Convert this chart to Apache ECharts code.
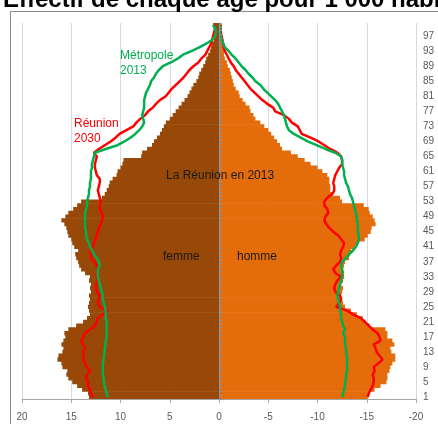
<!DOCTYPE html>
<html>
<head>
<meta charset="utf-8">
<script src="https://cdn.jsdelivr.net/npm/echarts@6/dist/echarts.min.js"></script>
<style>
  html, body { margin: 0; padding: 0; background: #fff; }
  #chart { width: 438px; height: 424px; }
</style>
</head>
<body>
<div id="chart"></div>
<script>
// ages 1..100 (bottom to top)
var ages = [];
for (var a = 1; a <= 100; a++) ages.push(String(a));

var xTicks = [-20, -15, -10, -5, 0, 5, 10, 15, 20];

// La Réunion 2013, per 1 000 inhabitants
var femme2013 = [
  13.2, 13.3, 13.9, 14.4, 14.9, 15.3, 15.5, 15.4, 15.9, 16.0,
  16.4, 16.3, 15.9, 15.8, 16.0, 15.8, 15.6, 15.7, 15.3, 14.5,
  13.8, 13.4, 13.1, 13.2, 13.3, 13.2, 13.1, 13.2, 13.0, 13.1,
  13.0, 13.2, 13.1, 13.6, 14.0, 14.2, 14.3, 14.5, 14.6, 14.3,
  14.7, 14.9, 15.0, 15.3, 15.4, 15.5, 15.7, 16.0, 15.6, 15.3,
  14.8, 14.4, 14.0, 11.9, 11.6, 11.4, 11.2, 11.1, 10.8, 10.4,
  10.3, 10.0, 9.8, 9.7, 7.9, 7.8, 7.3, 6.8, 6.6, 6.3,
  6.0, 5.8, 5.6, 5.4, 5.0, 4.7, 4.4, 4.1, 3.8, 3.5,
  3.2, 3.0, 2.8, 2.6, 2.3, 2.1, 2.0, 1.8, 1.6, 1.4,
  1.3, 1.1, 0.9, 0.8, 0.7, 0.5, 0.4, 0.3, 0.3, 0.6
];
var homme2013 = [
  15.1, 15.1, 15.8, 16.4, 17.0, 17.1, 17.1, 17.3, 17.4, 17.6,
  17.9, 17.9, 17.5, 17.4, 17.8, 17.6, 17.1, 17.1, 16.9, 15.3,
  14.9, 14.6, 14.0, 13.4, 12.8, 12.6, 12.5, 12.4, 12.5, 12.6,
  12.4, 12.6, 12.7, 12.7, 12.6, 12.7, 12.8, 13.2, 13.3, 13.4,
  13.8, 14.0, 14.8, 15.1, 15.4, 15.5, 15.9, 15.8, 15.6, 15.3,
  15.2, 14.7, 12.5, 12.3, 11.5, 11.3, 11.3, 11.2, 11.2, 11.0,
  10.5, 10.0, 9.3, 8.7, 8.0, 7.3, 6.4, 6.2, 5.9, 5.6,
  5.3, 5.0, 4.6, 4.2, 3.7, 3.5, 3.2, 3.1, 2.7, 2.4,
  2.1, 2.0, 1.7, 1.5, 1.4, 1.3, 1.2, 1.1, 0.9, 0.8,
  0.6, 0.5, 0.5, 0.4, 0.3, 0.3, 0.2, 0.2, 0.2, 0.3
];

// Réunion 2030 projection
var femme2030 = [
  12.8, 13.0, 13.1, 13.3, 13.3, 13.5, 13.4, 13.1, 13.4, 13.6,
  13.8, 13.7, 13.8, 13.6, 13.8, 14.0, 13.8, 13.6, 13.1, 12.6,
  12.4, 12.3, 11.8, 11.3, 12.1, 12.3, 12.2, 12.1, 12.4, 12.5,
  12.5, 12.3, 12.4, 12.4, 12.3, 12.4, 12.7, 13.0, 13.0, 13.1,
  12.8, 12.7, 12.5, 12.4, 12.3, 12.2, 12.0, 11.9, 11.8, 11.9,
  12.1, 12.1, 12.0, 12.1, 12.2, 12.3, 12.2, 12.1, 12.1, 12.4,
  12.5, 12.6, 12.6, 12.5, 12.4, 12.7, 12.2, 11.6, 11.0, 10.5,
  10.1, 9.4, 8.7, 8.4, 8.0, 7.5, 7.2, 6.7, 6.4, 6.0,
  5.4, 5.1, 4.8, 4.4, 4.0, 3.6, 3.3, 3.0, 2.6, 2.1,
  1.8, 1.4, 1.2, 1.0, 0.8, 0.7, 0.6, 0.5, 0.4, 0.5
];
var homme2030 = [
  15.1, 15.2, 15.4, 15.6, 15.7, 15.7, 15.6, 15.8, 15.7, 16.2,
  16.6, 16.3, 16.0, 15.9, 15.7, 16.4, 16.3, 16.1, 15.6, 15.2,
  14.8, 14.4, 13.6, 13.0, 11.9, 12.2, 12.4, 12.3, 11.8, 11.7,
  11.8, 12.0, 12.4, 11.8, 11.6, 11.9, 12.3, 12.4, 12.3, 12.4,
  12.6, 12.7, 12.4, 12.1, 11.6, 11.2, 10.9, 10.7, 10.8, 11.1,
  11.0, 10.7, 10.7, 11.0, 11.5, 11.7, 11.7, 11.6, 11.7, 11.8,
  12.0, 12.2, 12.5, 12.5, 12.4, 12.0, 11.3, 10.7, 10.1, 9.3,
  8.4, 8.2, 8.0, 7.4, 7.1, 6.6, 5.7, 5.5, 4.9, 4.4,
  4.0, 3.6, 3.2, 2.9, 2.6, 2.3, 2.0, 1.7, 1.5, 1.2,
  1.0, 0.8, 0.6, 0.5, 0.4, 0.35, 0.25, 0.2, 0.15, 0.15
];

// Métropole 2013
var femmeMetro = [
  11.3, 11.4, 11.5, 11.6, 11.7, 11.7, 11.8, 11.8, 11.8, 11.8,
  11.7, 11.7, 11.6, 11.6, 11.5, 11.5, 11.4, 11.4, 11.4, 11.4,
  11.4, 11.5, 11.5, 11.5, 11.6, 11.7, 11.8, 11.8, 11.9, 12.0,
  12.1, 12.2, 12.3, 12.3, 12.3, 12.1, 12.2, 12.4, 12.7, 12.9,
  13.1, 13.2, 13.4, 13.5, 13.5, 13.6, 13.6, 13.6, 13.6, 13.6,
  13.5, 13.4, 13.4, 13.3, 13.2, 13.2, 13.1, 13.1, 13.0, 13.0,
  13.0, 12.9, 12.9, 12.8, 12.7, 12.6, 11.5, 10.3, 9.6, 9.0,
  8.5, 8.1, 7.8, 7.6, 7.7, 7.8, 7.7, 7.6, 7.6, 7.6,
  7.5, 7.4, 7.2, 7.0, 6.9, 6.6, 6.4, 6.1, 5.7, 4.9,
  4.2, 3.7, 2.8, 2.0, 1.3, 0.7, 0.4, 0.3, 0.4, 0.6
];
var hommeMetro = [
  12.5, 12.6, 12.7, 12.8, 12.8, 12.9, 12.9, 13.0, 13.0, 13.0,
  13.0, 13.0, 12.9, 12.9, 12.8, 12.8, 12.8, 12.6, 12.8, 12.6,
  12.5, 12.4, 12.4, 12.3, 12.3, 12.2, 12.1, 12.0, 12.1, 12.2,
  12.3, 12.4, 12.5, 12.5, 12.5, 12.4, 12.5, 12.9, 13.2, 13.6,
  13.9, 14.1, 14.2, 14.2, 14.1, 14.1, 14.1, 14.0, 14.0, 13.9,
  13.8, 13.7, 13.6, 13.5, 13.3, 13.2, 13.1, 12.9, 12.8, 12.7,
  12.7, 12.6, 12.5, 12.5, 12.4, 11.8, 10.8, 9.9, 9.0, 8.3,
  7.6, 7.1, 6.9, 6.8, 6.7, 6.6, 6.4, 6.2, 6.0, 5.7,
  5.3, 4.9, 4.5, 4.2, 3.7, 3.4, 3.0, 2.7, 2.3, 2.0,
  1.7, 1.3, 1.0, 0.6, 0.45, 0.3, 0.15, 0.1, 0.1, 0.1
];

// men are drawn on the negative side
var neg = function (arr) {
  return arr.map(function (v) { return -v; });
};

var FONT = '"Liberation Sans", Arial, sans-serif';

var lineSeries = function (name, data, color) {
  return {
    name: name,
    type: 'line',
    data: data,
    yAxisIndex: 0,
    symbol: 'none',
    smooth: false,
    lineStyle: { color: color, width: 2.5 },
    z: 3
  };
};

var barSeries = function (name, data, color) {
  return {
    name: name,
    type: 'bar',
    stack: 'pyr',
    yAxisIndex: 0,
    data: data,
    // a bit wider than one age band (3.76px) so neighbours overlap, no hairline gaps
    barWidth: 4.4,
    barCategoryGap: 0,
    itemStyle: { color: color },
    z: 2
  };
};

var chart = echarts.init(document.getElementById('chart'));

var option = {
  animation: false,
  backgroundColor: '#fff',
  grid: { left: 22, right: 22, top: 23, bottom: 25 },
  xAxis: {
    type: 'value',
    min: xTicks[0],
    max: xTicks[xTicks.length - 1],
    interval: 5,
    inverse: true,
    axisLine: { show: true, lineStyle: { color: '#a6a6a6' } },
    axisTick: { show: true, length: 4, lineStyle: { color: '#a6a6a6' } },
    axisLabel: { color: '#595959', fontSize: 10, fontFamily: FONT, margin: 13 },
    splitLine: { show: true, lineStyle: { color: '#d9d9d9', width: 1 } }
  },
  yAxis: [
    {
      type: 'category',
      data: ages,
      position: 'right',
      boundaryGap: true,
      axisLine: { show: false, onZero: false },
      axisTick: { show: false },
      axisLabel: { interval: 3, color: '#595959', fontSize: 10, fontFamily: FONT, margin: 7 },
      splitLine: { show: false }
    },
    {
      type: 'category',
      data: ages,
      position: 'left',
      boundaryGap: true,
      axisLine: { show: true, onZero: true, lineStyle: { color: '#8497b0' } },
      axisTick: { show: true, interval: 0, length: 3, inside: true, lineStyle: { color: '#8497b0' } },
      axisLabel: { show: false },
      splitLine: { show: false },
      z: 4
    }
  ],
  series: [
    barSeries('femme', femme2013, '#984807'),
    barSeries('homme', neg(homme2013), '#e46c0a'),
    lineSeries('Réunion 2030 femme', femme2030, '#ff0000'),
    lineSeries('Réunion 2030 homme', neg(homme2030), '#ff0000'),
    lineSeries('Métropole 2013 femme', femmeMetro, '#00b050'),
    lineSeries('Métropole 2013 homme', neg(hommeMetro), '#00b050')
  ],
  graphic: [
    {
      type: 'rect',
      shape: { x: 10.5, y: 11.5, width: 600, height: 600 },
      style: { fill: 'none', stroke: '#8c8c8c', lineWidth: 1 },
      silent: true,
      z: 0
    },
    {
      type: 'text',
      style: {
        x: 3, y: 0, text: 'Effectif de chaque âge pour 1 000 habitants',
        font: 'bold 24px ' + FONT, fill: '#000', verticalAlign: 'middle'
      },
      z: 10
    },
    {
      type: 'text',
      style: {
        x: 120, y: 63, text: 'Métropole\n2013', lineHeight: 15,
        font: '12px ' + FONT, fill: '#00b050', verticalAlign: 'middle'
      },
      z: 10
    },
    {
      type: 'text',
      style: {
        x: 74, y: 131, text: 'Réunion\n2030', lineHeight: 15,
        font: '12px ' + FONT, fill: '#ff0000', verticalAlign: 'middle'
      },
      z: 10
    },
    {
      type: 'text',
      style: {
        x: 166, y: 176, text: 'La Réunion en 2013',
        font: '12px ' + FONT, fill: '#1a1a1a', verticalAlign: 'middle'
      },
      z: 10
    },
    {
      type: 'text',
      style: {
        x: 163, y: 257, text: 'femme',
        font: '12px ' + FONT, fill: '#1a1a1a', verticalAlign: 'middle'
      },
      z: 10
    },
    {
      type: 'text',
      style: {
        x: 237, y: 257, text: 'homme',
        font: '12px ' + FONT, fill: '#1a1a1a', verticalAlign: 'middle'
      },
      z: 10
    }
  ]
};

chart.setOption(option);
</script>
</body>
</html>
